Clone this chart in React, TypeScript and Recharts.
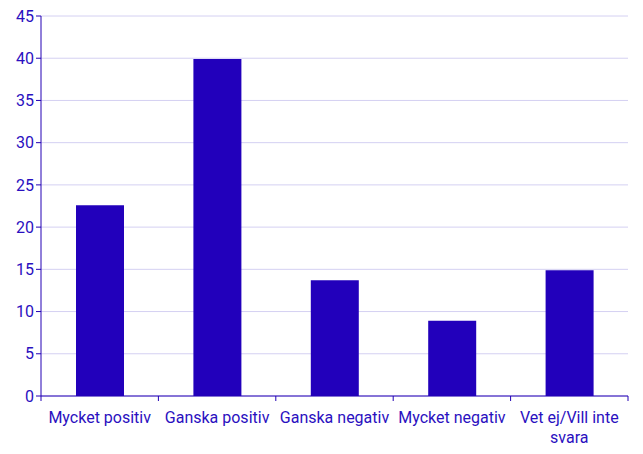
import React from 'react';
import { BarChart, Bar, XAxis, YAxis, CartesianGrid, Text } from 'recharts';

const categories = ['Mycket positiv', 'Ganska positiv', 'Ganska negativ', 'Mycket negativ', 'Vet ej/Vill inte svara'];
const values = [22.6, 39.9, 13.7, 8.9, 14.9];
const yTicks = [0, 5, 10, 15, 20, 25, 30, 35, 40, 45];

const data = categories.map((name, i) => ({ name, value: values[i] }));

const axisColor = '#2200b4';
const textColor = '#2a10c0';
const gridColor = '#d4d0f2';
const plotWidth = 643 - 41 - 15;

const CategoryTick = ({ x, y, payload, index }: any) => {
  // half of the category band, to put tick marks on the boundaries
  const half = payload && payload.offset ? payload.offset : plotWidth / categories.length / 2;
  const top = y - 8;
  return (
    <g>
      <line x1={x - half} x2={x - half} y1={top} y2={top + 5} stroke={axisColor} />
      {index === categories.length - 1 && (
        <line x1={x + half} x2={x + half} y1={top} y2={top + 5} stroke={axisColor} />
      )}
      <Text
        x={x}
        y={y + 8}
        width={112}
        lineHeight="1.2em"
        textAnchor="middle"
        verticalAnchor="start"
        fontSize={16}
        fill={textColor}
        fontFamily="Roboto"
      >
        {payload.value}
      </Text>
    </g>
  );
};

export default function App() {
  return (
    <div style={{ position: 'fixed', left: 0, top: 0, width: 643, height: 454, background: '#fff' }}>
      <BarChart
        width={643}
        height={454}
        data={data}
        margin={{ top: 16, right: 15, left: 0, bottom: 0 }}
        barSize={48}
      >
        <CartesianGrid vertical={false} stroke={gridColor} />
        <XAxis
          dataKey="name"
          height={58}
          interval={0}
          tickLine={false}
          axisLine={{ stroke: axisColor }}
          tick={<CategoryTick />}
        />
        <YAxis
          domain={[0, 45]}
          ticks={yTicks}
          width={41}
          interval={0}
          tickSize={5}
          tickLine={{ stroke: axisColor }}
          axisLine={{ stroke: axisColor }}
          tick={{ fill: textColor, fontSize: 16, fontFamily: 'Roboto' }}
        />
        <YAxis
          yAxisId="right"
          orientation="right"
          width={0}
          tick={false}
          tickLine={false}
          axisLine={{ stroke: gridColor }}
        />
        <Bar dataKey="value" fill="#2200bb" isAnimationActive={false} />
      </BarChart>
    </div>
  );
}
